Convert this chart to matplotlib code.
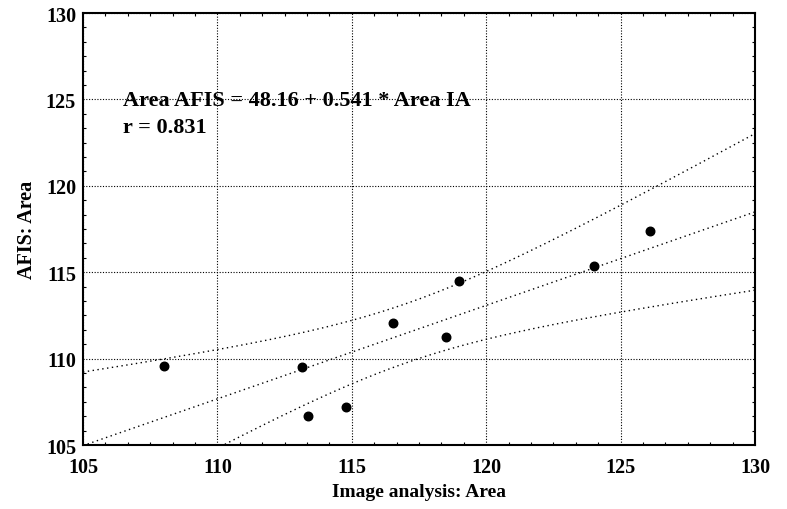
import numpy as np
import matplotlib
matplotlib.use("Agg")
import matplotlib.pyplot as plt
from matplotlib.ticker import MultipleLocator, AutoMinorLocator

# values
area_ia = [108.0, 113.13, 113.38, 114.77, 116.54, 118.49, 118.99, 124.01, 126.08]
area_afis = [109.6, 109.5, 106.66, 107.2, 112.04, 111.27, 114.51, 115.34, 117.37]
intercept = 48.16
slope = 0.541
r_value = 0.831
t_crit = 2.365  # t(0.975, df=7)

plt.rcParams['font.family'] = ['Liberation Serif', 'DejaVu Serif']
plt.rcParams['font.weight'] = 'bold'

fig = plt.figure(figsize=(7.87, 5.10), dpi=100)
ax = fig.add_axes([83 / 787, 1 - 446 / 510, 672 / 787, 432 / 510])

x = np.array(area_ia)
y = np.array(area_afis)

# regression line and 95% confidence bands for the mean
xs = np.linspace(105, 130, 200)
fit = intercept + slope * xs
resid = y - (intercept + slope * x)
s = np.sqrt(np.sum(resid ** 2) / (len(x) - 2))
sxx = np.sum((x - x.mean()) ** 2)
half = t_crit * s * np.sqrt(1 / len(x) + (xs - x.mean()) ** 2 / sxx)

line_style = dict(color='black', lw=1.0, linestyle=(0, (1, 2.5)))
ax.plot(xs, fit, **line_style)
ax.plot(xs, fit + half, **line_style)
ax.plot(xs, fit - half, **line_style)

ax.scatter(x, y, s=38, color='black', zorder=3)

ax.set_xlim(105, 130)
ax.set_ylim(105, 130)
ax.xaxis.set_major_locator(MultipleLocator(5))
ax.yaxis.set_major_locator(MultipleLocator(5))
ax.xaxis.set_minor_locator(AutoMinorLocator(6))
ax.yaxis.set_minor_locator(AutoMinorLocator(6))
ax.grid(True, which='major', color='black', lw=0.8, linestyle=(0, (1, 1.5)))
ax.tick_params(which='both', direction='in', top=True, right=True, labelsize=14.5)
ax.tick_params(axis='x', which='major', length=0, pad=9)
ax.tick_params(axis='y', which='major', length=0, pad=5)
ax.tick_params(which='minor', length=2.5, width=0.8)
for sp in ax.spines.values():
    sp.set_linewidth(1.5)

ax.set_xlabel('Image analysis: Area', fontsize=14, fontweight='bold', labelpad=4)
ax.set_ylabel('AFIS: Area', fontsize=14.5, fontweight='bold', labelpad=6)

ax.text(106.49, 124.68, 'Area AFIS = %.2f + %.3f * Area IA' % (intercept, slope),
        fontsize=16, fontweight='bold', va='baseline', ha='left')
ax.text(106.49, 123.1, 'r = %.3f' % r_value,
        fontsize=16, fontweight='bold', va='baseline', ha='left')

fig.savefig('out.png', dpi=100)
